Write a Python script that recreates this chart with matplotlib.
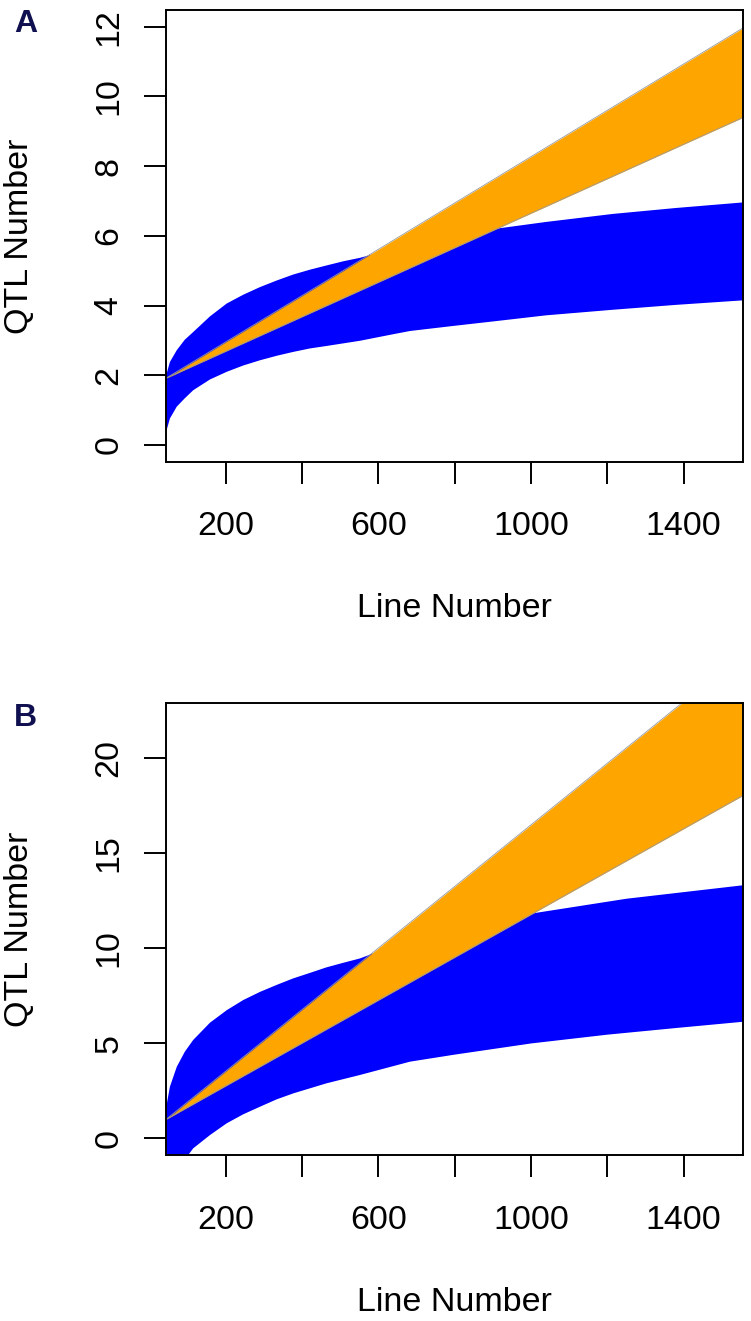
import matplotlib
matplotlib.use("Agg")
import matplotlib.pyplot as plt

plt.rcParams['font.family'] = ['Liberation Sans', 'DejaVu Sans']

# panel A: band
a_blue_up_x = [43, 54, 72, 93, 115, 159, 203, 246, 290, 334, 377, 421, 464, 508, 552, 586,
               750, 905, 1040, 1215, 1380, 1556]
a_blue_up_y = [1.95, 2.38, 2.72, 3.02, 3.24, 3.69, 4.06, 4.31, 4.53, 4.72, 4.89, 5.03, 5.15,
               5.27, 5.37, 5.47, 5.85, 6.20, 6.40, 6.63, 6.80, 6.96]
a_blue_lo_x = [43, 54, 72, 93, 115, 159, 203, 246, 290, 334, 377, 421, 464, 552, 640, 683,
               800, 905, 1040, 1215, 1380, 1556]
a_blue_lo_y = [0.33, 0.76, 1.10, 1.34, 1.57, 1.88, 2.10, 2.28, 2.43, 2.56, 2.67, 2.77, 2.84,
               2.99, 3.18, 3.27, 3.42, 3.55, 3.72, 3.88, 4.02, 4.15]
a_orange_x = [43, 1556]
a_orange_lo = [1.91, 9.40]
a_orange_up = [1.91, 11.97]

# panel B
b_blue_up_x = [43, 54, 72, 93, 115, 159, 203, 246, 290, 334, 377, 421, 464, 508, 552, 586,
               750, 1001, 1250, 1556]
b_blue_up_y = [1.49, 2.71, 3.76, 4.55, 5.17, 6.08, 6.74, 7.27, 7.70, 8.07, 8.41, 8.70, 8.99,
               9.23, 9.46, 9.72, 10.6, 11.82, 12.6, 13.31]
b_blue_lo_x = [43, 72, 102, 115, 159, 203, 246, 290, 334, 377, 464, 552, 683, 800, 1001, 1200,
               1380, 1556]
b_blue_lo_y = [-3.5, -2.0, -0.88, -0.53, 0.17, 0.79, 1.26, 1.66, 2.05, 2.36, 2.89, 3.33, 4.03,
               4.40, 4.99, 5.45, 5.80, 6.13]
b_orange_x = [43, 1556]
b_orange_lo = [0.98, 18.04]
b_orange_up = [0.98, 25.5]

x_ticks = [200, 400, 600, 800, 1000, 1200, 1400]
x_labels = ['200', '', '600', '', '1000', '', '1400']
a_yticks = [0, 2, 4, 6, 8, 10, 12]
b_yticks = [0, 5, 10, 15, 20]

blue = '#0000ff'
orange = '#ffa500'
fs = 24.5


def band(ax, ux, uy, lx, ly, color):
    # polygon: upper edge forward, lower edge back
    xs = list(ux) + list(lx)[::-1]
    ys = list(uy) + list(ly)[::-1]
    ax.fill(xs, ys, color=color, lw=0)


def panel(ax, letter, bu, bl, ox, olo, oup, yticks, ylim):
    band(ax, bu[0], bu[1], bl[0], bl[1], blue)
    ax.fill_between(ox, olo, oup, color=orange, lw=0)
    ax.plot(ox, olo, color='#9a9a9a', lw=0.6)
    ax.plot(ox, oup, color='#9a9a9a', lw=0.6)
    ax.set_xlim(43, 1556)
    ax.set_ylim(*ylim)
    ax.set_xticks(x_ticks)
    ax.set_xticklabels(x_labels)
    ax.set_yticks(yticks)
    ax.tick_params(axis='both', direction='out', length=15.8, width=1.4, labelsize=fs)
    ax.tick_params(axis='x', pad=20)
    ax.tick_params(axis='y', pad=14, labelrotation=90)
    for lab in ax.get_yticklabels():
        lab.set_va('center')
    for s in ax.spines.values():
        s.set_linewidth(1.4)
    ax.text(0.5, -0.326, 'Line Number', transform=ax.transAxes, ha='center', va='center', fontsize=fs)
    ax.text(-0.2523, 0.5, 'QTL Number', transform=ax.transAxes, rotation=90,
            ha='center', va='center', fontsize=fs)
    ax.text(-0.242, 0.968, letter, transform=ax.transAxes, ha='center', va='center',
            fontsize=23, fontweight='bold', color='#101050')


fig = plt.figure(figsize=(7.51, 13.21), dpi=100)
ax1 = fig.add_axes([0.22064, 0.65049, 0.76911, 0.34194])
ax2 = fig.add_axes([0.22064, 0.12566, 0.76911, 0.34194])

panel(ax1, 'A', (a_blue_up_x, a_blue_up_y), (a_blue_lo_x, a_blue_lo_y),
      a_orange_x, a_orange_lo, a_orange_up, a_yticks, (-0.48, 12.48))
panel(ax2, 'B', (b_blue_up_x, b_blue_up_y), (b_blue_lo_x, b_blue_lo_y),
      b_orange_x, b_orange_lo, b_orange_up, b_yticks, (-0.88, 22.88))

fig.savefig('out.png', dpi=100)
